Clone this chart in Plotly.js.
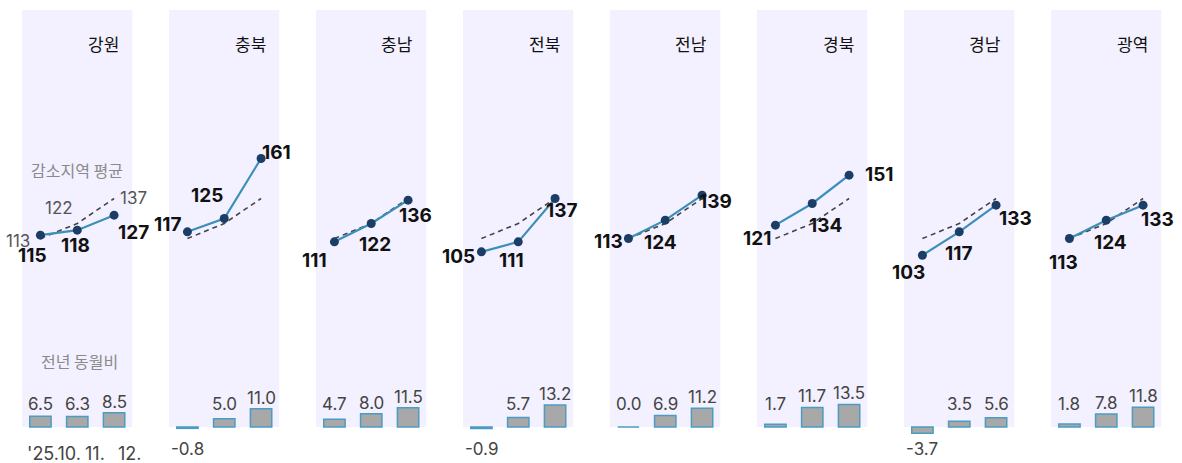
<!DOCTYPE html>
<html>
<head>
<meta charset="utf-8">
<script src="https://cdn.plot.ly/plotly-3.0.1.min.js"></script>
<style>html,body{margin:0;padding:0;background:#fff;}#chart{width:1182px;height:463px;}</style>
</head>
<body>
<div id="chart"></div>
<script>
// ---- data ----
const regions = ['강원','충북','충남','전북','전남','경북','경남','광역'];
const months = ["'25.10.", '11.', '12.'];
const avgLabel = '감소지역 평균';
const yoyLabel = '전년 동월비';
const avgValues = [113, 122, 137];
const idxGangwon = [115, 118, 127];
const idxChungbuk = [117, 125, 161];
const idxChungnam = [111, 122, 136];
const idxJeonbuk = [105, 111, 137];
const idxJeonnam = [113, 124, 139];
const idxGyeongbuk = [121, 134, 151];
const idxGyeongnam = [103, 117, 133];
const idxGwangyeok = [113, 124, 133];
const yoyGangwon = [6.5, 6.3, 8.5];
const yoyChungbuk = [-0.8, 5.0, 11.0];
const yoyChungnam = [4.7, 8.0, 11.5];
const yoyJeonbuk = [-0.9, 5.7, 13.2];
const yoyJeonnam = [0.0, 6.9, 11.2];
const yoyGyeongbuk = [1.7, 11.7, 13.5];
const yoyGyeongnam = [-3.7, 3.5, 5.6];
const yoyGwangyeok = [1.8, 7.8, 11.8];

const indexSeries = [idxGangwon, idxChungbuk, idxChungnam, idxJeonbuk, idxJeonnam, idxGyeongbuk, idxGyeongnam, idxGwangyeok];
const yoySeries = [yoyGangwon, yoyChungbuk, yoyChungnam, yoyJeonbuk, yoyJeonnam, yoyGyeongbuk, yoyGyeongnam, yoyGwangyeok];

// ---- label placement (pixel offsets from each point) ----
const labelOffsets = [
  [[-8,20],[-2,15],[19,17]],
  [[-20,-7],[-17,-23],[15,-6]],
  [[-20,19],[4,21],[7,15]],
  [[-23,5],[-7,19],[7,12]],
  [[-20,3],[-5,22],[13,6]],
  [[-18,13],[13,22],[30,-1]],
  [[-14,17],[-1,22],[19,13]],
  [[-6,24],[4,22],[14,14]]
];
const avgOffsets = [[-22,2],[-18,-16],[19,0]];

// ---- geometry ----
const W = 1182, H = 463;
const panelLeft0 = 22, panelW = 110.5, panelStep = 147;
const plotTop = 10, zeroPx = 427, topVal = 250;
const k = (zeroPx - plotTop) / topVal;
const yMax = topVal + plotTop / k;
const yMin = -(H - zeroPx) / k;

const FONT = "Inter, 'Noto Sans CJK KR', sans-serif";
const KFONT = "'Noto Sans CJK KR', Inter, sans-serif";
const panelBg = '#f3f0ff';
const lineBlue = '#3b8fb8';
const dotNavy = '#1b3d66';

const cats = months.map((m, i) => i);
const traces = [];
const shapes = [];
const annotations = [];
const layout = {
  width: W, height: H,
  margin: {l: 0, r: 0, t: 0, b: 0},
  paper_bgcolor: '#fff', plot_bgcolor: 'rgba(0,0,0,0)',
  showlegend: false,
  font: {family: FONT},
  yaxis: {domain: [0, 1], range: [yMin, yMax], visible: false, fixedrange: true},
  bargap: 0.42
};

regions.forEach((name, i) => {
  const ax = i === 0 ? '' : String(i + 1);
  const xa = 'x' + ax;
  const left = panelLeft0 + i * panelStep;
  layout['xaxis' + ax] = {
    domain: [left / W, (left + panelW) / W],
    range: [-0.5, 2.5], visible: false, fixedrange: true, anchor: 'y'
  };
  shapes.push({type: 'rect', xref: xa, yref: 'y', x0: -0.5, x1: 2.5, y0: 0, y1: topVal,
    fillcolor: panelBg, line: {width: 0}, layer: 'below'});

  // bars
  traces.push({type: 'bar', x: cats, y: yoySeries[i], xaxis: xa, yaxis: 'y',
    width: 0.58,
    marker: {color: '#a8a8a8', line: {color: '#4b9cc3', width: 1.5}},
    hoverinfo: 'skip', cliponaxis: false});
  // average dashed
  traces.push({type: 'scatter', mode: 'lines', x: cats, y: avgValues, xaxis: xa, yaxis: 'y',
    line: {color: '#444', width: 1.6, dash: '5px,4px'}, hoverinfo: 'skip', cliponaxis: false});
  // regional line
  traces.push({type: 'scatter', mode: 'lines+markers', x: cats, y: indexSeries[i], xaxis: xa, yaxis: 'y',
    line: {color: lineBlue, width: 2.2}, marker: {color: dotNavy, size: 9},
    hoverinfo: 'skip', cliponaxis: false});

  // title
  annotations.push({xref: xa + ' domain', yref: 'y', x: 1, y: (zeroPx - 43) / k,
    xanchor: 'right', yanchor: 'middle', xshift: -12, text: name, showarrow: false,
    font: {family: KFONT, size: 17, color: '#111'}});

  // index labels
  indexSeries[i].forEach((v, j) => {
    annotations.push({xref: xa, yref: 'y', x: j, y: v, xshift: labelOffsets[i][j][0], yshift: -labelOffsets[i][j][1],
      text: String(v), showarrow: false, xanchor: 'center', yanchor: 'middle',
      font: {family: FONT, size: 19, color: '#111', weight: 700}});
  });

  // bar value labels
  yoySeries[i].forEach((v, j) => {
    const ly = v >= 0 ? Math.max(v, 7.2) + 6.6 : -(449 - zeroPx) / k;
    annotations.push({xref: xa, yref: 'y', x: j, y: ly, text: v.toFixed(1), showarrow: false,
      xanchor: 'center', yanchor: 'middle', font: {family: FONT, size: 17, color: '#444'}});
  });
});

// first panel extras: average labels, captions, month labels
avgValues.forEach((v, j) => {
  annotations.push({xref: 'x', yref: 'y', x: j, y: v, xshift: avgOffsets[j][0], yshift: -avgOffsets[j][1],
    text: String(v), showarrow: false, xanchor: 'center', yanchor: 'middle',
    font: {family: FONT, size: 17, color: '#555'}});
});
annotations.push({xref: 'x', yref: 'y', x: 1, y: (zeroPx - 170) / k, text: avgLabel, showarrow: false,
  xanchor: 'center', yanchor: 'middle', font: {family: KFONT, size: 16, color: '#8a8a8a'}});
annotations.push({xref: 'x', yref: 'y', x: 1, y: (zeroPx - 361) / k, xshift: 2, text: yoyLabel, showarrow: false,
  xanchor: 'center', yanchor: 'middle', font: {family: KFONT, size: 16, color: '#8a8a8a'}});
const monthShift = [14, 18, 15];
months.forEach((m, j) => {
  annotations.push({xref: 'x', yref: 'y', x: j, y: -(453 - zeroPx) / k, xshift: monthShift[j], text: m, showarrow: false,
    xanchor: 'center', yanchor: 'middle', font: {family: FONT, size: 18, color: '#444'}});
});

layout.shapes = shapes;
layout.annotations = annotations;
Plotly.newPlot('chart', traces, layout, {staticPlot: true, displayModeBar: false});
</script>
</body>
</html>
